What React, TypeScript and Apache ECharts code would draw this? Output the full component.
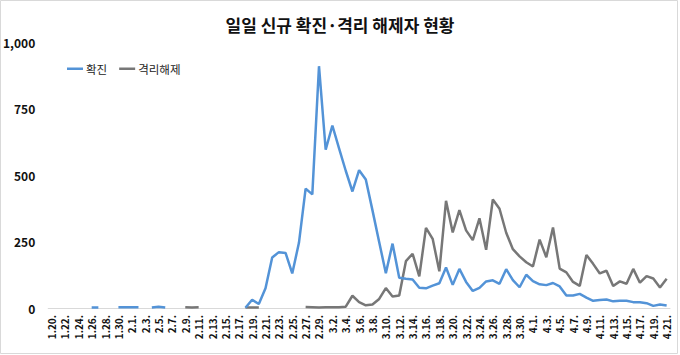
import React, { useEffect, useRef } from "react";
import * as echarts from "echarts";

const TITLE = "일일 신규 확진·격리 해제자 현황";
const SERIES_NAMES = ["확진", "격리해제"];

const dates = [
  "1.20.", "1.21.", "1.22.", "1.23.", "1.24.", "1.25.", "1.26.", "1.27.", "1.28.", "1.29.", "1.30.", "1.31.",
  "2.1.", "2.2.", "2.3.", "2.4.", "2.5.", "2.6.", "2.7.", "2.8.", "2.9.", "2.10.", "2.11.", "2.12.", "2.13.",
  "2.14.", "2.15.", "2.16.", "2.17.", "2.18.", "2.19.", "2.20.", "2.21.", "2.22.", "2.23.", "2.24.", "2.25.",
  "2.26.", "2.27.", "2.28.", "2.29.",
  "3.1.", "3.2.", "3.3.", "3.4.", "3.5.", "3.6.", "3.7.", "3.8.", "3.9.", "3.10.", "3.11.", "3.12.", "3.13.",
  "3.14.", "3.15.", "3.16.", "3.17.", "3.18.", "3.19.", "3.20.", "3.21.", "3.22.", "3.23.", "3.24.", "3.25.",
  "3.26.", "3.27.", "3.28.", "3.29.", "3.30.", "3.31.",
  "4.1.", "4.2.", "4.3.", "4.4.", "4.5.", "4.6.", "4.7.", "4.8.", "4.9.", "4.10.", "4.11.", "4.12.", "4.13.",
  "4.14.", "4.15.", "4.16.", "4.17.", "4.18.", "4.19.", "4.20.", "4.21.",
];

// 확진 (null = no value plotted)
const confirmed = [
  null, null, null, null, null, null, 2, 2, null, null, 3, 3,
  3, 3, null, 2, 5, 2, null, null, null, null, null, null, null,
  null, null, null, null, 1, 31, 15, 74, 190, 210, 207, 130,
  245, 449, 427, 909,
  595, 686, 600, 516, 438, 518, 483, 367, 248, 131, 242, 114, 110,
  107, 76, 74, 84, 93, 152, 87, 147, 98, 64, 76, 100,
  104, 91, 146, 105, 78, 125,
  101, 89, 86, 94, 81, 47, 47, 53, 39, 27, 30, 32, 25,
  27, 27, 22, 22, 18, 8, 13, 9,
];

// 격리해제
const released = [
  null, null, null, null, null, null, null, null, null, null, null, null,
  null, null, null, null, null, null, null, null, 3, 2, 3, null, null,
  null, null, null, null, 2, 2, 2, null, null, null, null, null,
  null, 4, 3, 2,
  3, 3, 3, 5, 46, 22, 10, 13, 34, 75, 43, 47, 176,
  204, 119, 301, 260, 138, 403, 284, 368, 292, 255, 337, 219,
  408, 373, 283, 221, 194, 172,
  156, 257, 191, 303, 148, 134, 98, 83, 199, 166, 130, 140, 83,
  100, 91, 147, 95, 120, 111, 77, 110,
];

const yTicks = [0, 250, 500, 750, 1000];

const BLUE = "#5393d7";
const GRAY = "#777777";
const FONT = "'Noto Sans CJK KR', 'Noto Sans', sans-serif";

export default function App() {
  const ref = useRef<HTMLDivElement>(null);

  useEffect(() => {
    document.body.style.margin = "0";
    if (!ref.current) return;
    const chart = echarts.init(ref.current, null, { renderer: "svg" });
    chart.setOption({
      animation: false,
      backgroundColor: "#ffffff",
      textStyle: { fontFamily: FONT },
      title: {
        text: TITLE,
        left: "center",
        top: 11,
        textStyle: { fontSize: 17, fontWeight: "bold", color: "#111", fontFamily: FONT },
      },
      graphic: [
        {
          type: "rect",
          shape: { x: 0.5, y: 0.5, width: 677, height: 353 },
          style: { fill: "none", stroke: "#d9d9d9", lineWidth: 1 },
          silent: true,
        },
      ],
      legend: {
        left: 62,
        top: 58,
        icon: "rect",
        itemWidth: 16,
        itemHeight: 2.5,
        itemGap: 12,
        textStyle: { fontSize: 11.5, color: "#222", fontFamily: FONT, padding: [0, 0, 0, -2] },
        data: SERIES_NAMES,
      },
      grid: { left: 46, right: 10, top: 42, bottom: 47 },
      xAxis: {
        type: "category",
        data: dates,
        boundaryGap: true,
        axisLine: { lineStyle: { color: "#d9d9d9", width: 1 } },
        axisTick: { interval: 1, length: 5, lineStyle: { color: "#d9d9d9" } },
        axisLabel: {
          interval: 1,
          rotate: 90,
          margin: 7,
          fontSize: 10,
          fontWeight: "bold",
          color: "#111",
          fontFamily: FONT,
        },
      },
      yAxis: {
        type: "value",
        min: yTicks[0],
        max: yTicks[yTicks.length - 1],
        interval: 250,
        axisLine: { show: false },
        axisTick: { show: false },
        splitLine: { show: false },
        axisLabel: {
          margin: 13,
          fontSize: 12,
          fontWeight: "bold",
          color: "#111",
          fontFamily: FONT,
          formatter: (v: number) => v.toLocaleString("en-US"),
        },
      },
      series: [
        {
          name: SERIES_NAMES[0],
          type: "line",
          data: confirmed,
          symbol: "none",
          connectNulls: false,
          lineStyle: { color: BLUE, width: 2.5 },
          itemStyle: { color: BLUE },
          z: 3,
        },
        {
          name: SERIES_NAMES[1],
          type: "line",
          data: released,
          symbol: "none",
          connectNulls: false,
          lineStyle: { color: GRAY, width: 2.5 },
          itemStyle: { color: GRAY },
          z: 2,
        },
      ],
    });
    return () => chart.dispose();
  }, []);

  return <div ref={ref} style={{ width: 680, height: 355 }} />;
}
